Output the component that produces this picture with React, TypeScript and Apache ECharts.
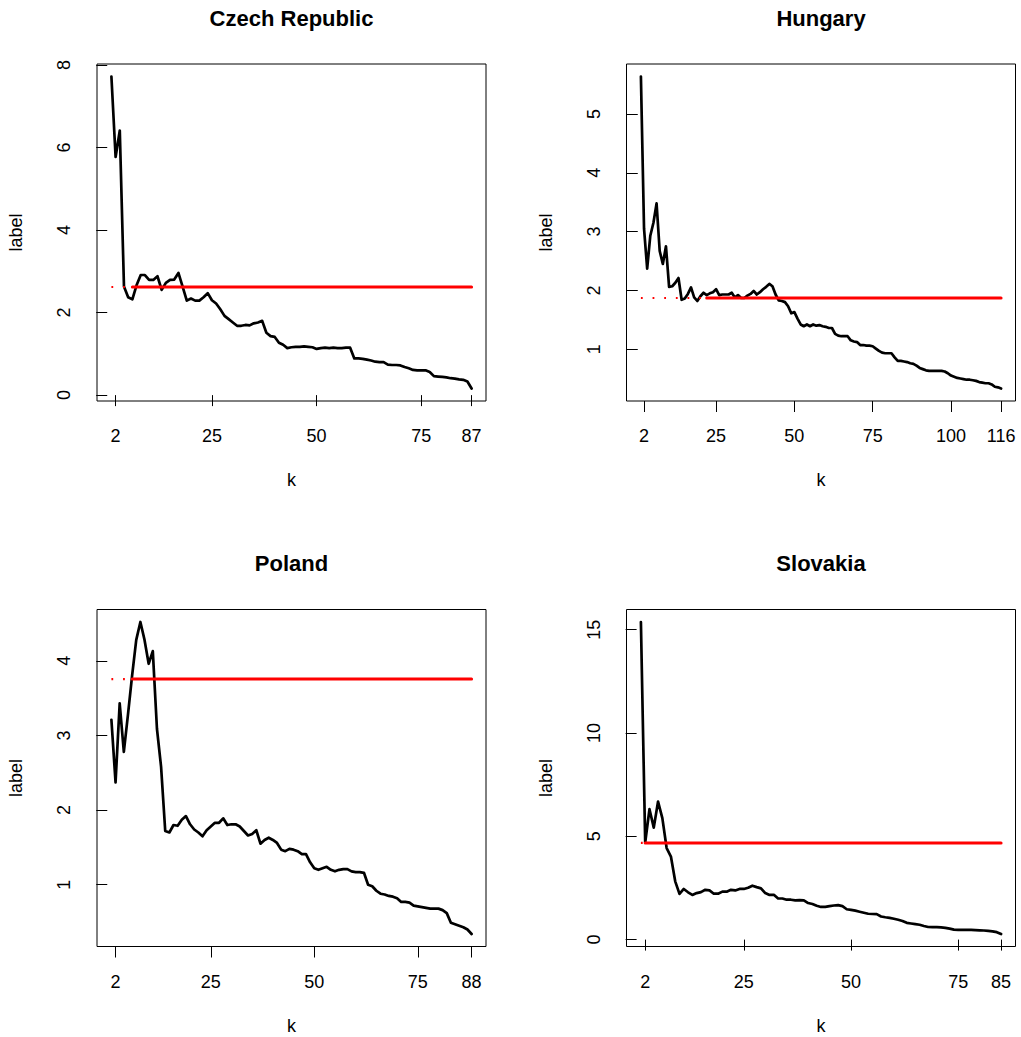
import React, { useEffect, useRef } from "react";
import * as echarts from "echarts";

// ---- data ----
const TITLES = ["Czech Republic", "Hungary", "Poland", "Slovakia"];

const czech = [
  7.72, 5.77, 6.41, 2.63, 2.37, 2.32, 2.66, 2.91, 2.91, 2.79, 2.79, 2.88, 2.55, 2.72, 2.79, 2.8, 2.96, 2.63, 2.29, 2.34,
  2.29, 2.29, 2.37, 2.47, 2.3, 2.22, 2.08, 1.92, 1.84, 1.76, 1.68, 1.68, 1.7, 1.69, 1.74, 1.76, 1.8, 1.51, 1.43, 1.41,
  1.27, 1.22, 1.14, 1.16, 1.17, 1.17, 1.18, 1.17, 1.16, 1.12, 1.14, 1.15, 1.14, 1.15, 1.14, 1.14, 1.15, 1.15, 0.89, 0.89,
  0.88, 0.86, 0.84, 0.81, 0.8, 0.8, 0.74, 0.73, 0.73, 0.72, 0.68, 0.65, 0.61, 0.6, 0.6, 0.6, 0.56, 0.46, 0.45, 0.44,
  0.43, 0.41, 0.4, 0.38, 0.37, 0.33, 0.16,
];

const hungary = [
  5.64, 3.05, 2.37, 2.93, 3.15, 3.48, 2.67, 2.45, 2.75, 2.06, 2.07, 2.13, 2.21, 1.84, 1.86, 1.94, 2.05, 1.88, 1.82, 1.9,
  1.96, 1.92, 1.95, 1.97, 2.02, 1.92, 1.93, 1.93, 1.93, 1.96, 1.88, 1.92, 1.87, 1.87, 1.91, 1.94, 1.99, 1.93, 1.97, 2.02,
  2.06, 2.11, 2.07, 1.93, 1.83, 1.82, 1.8, 1.73, 1.61, 1.63, 1.52, 1.42, 1.39, 1.42, 1.39, 1.42, 1.4, 1.41, 1.39, 1.38,
  1.36, 1.36, 1.26, 1.23, 1.22, 1.22, 1.22, 1.15, 1.13, 1.12, 1.07, 1.07, 1.06, 1.06, 1.05, 1.01, 0.97, 0.94, 0.93, 0.93,
  0.93, 0.86, 0.8, 0.8, 0.79, 0.78, 0.76, 0.75, 0.72, 0.68, 0.66, 0.64, 0.63, 0.63, 0.63, 0.63, 0.63, 0.62, 0.59, 0.55,
  0.53, 0.51, 0.5, 0.49, 0.48, 0.48, 0.47, 0.46, 0.44, 0.43, 0.42, 0.42, 0.4, 0.36, 0.35, 0.33,
];

const poland = [
  3.21, 2.37, 3.43, 2.78, 3.28, 3.8, 4.28, 4.52, 4.28, 3.96, 4.13, 3.09, 2.58, 1.72, 1.7, 1.8, 1.79, 1.87, 1.92, 1.81,
  1.74, 1.7, 1.65, 1.73, 1.78, 1.83, 1.83, 1.89, 1.8, 1.81, 1.81, 1.78, 1.72, 1.66, 1.68, 1.73, 1.55, 1.6, 1.63, 1.6,
  1.56, 1.47, 1.45, 1.48, 1.47, 1.45, 1.41, 1.41, 1.3, 1.22, 1.2, 1.22, 1.24, 1.2, 1.18, 1.2, 1.21, 1.21, 1.18, 1.17,
  1.17, 1.16, 1.0, 0.98, 0.92, 0.88, 0.87, 0.85, 0.84, 0.82, 0.77, 0.77, 0.76, 0.72, 0.71, 0.7, 0.69, 0.68, 0.68, 0.68,
  0.66, 0.62, 0.49, 0.47, 0.45, 0.43, 0.4, 0.34,
];

const slovakia = [
  15.37, 4.7, 6.31, 5.42, 6.68, 5.88, 4.43, 4.02, 2.82, 2.21, 2.45, 2.29, 2.16, 2.25, 2.3, 2.41, 2.38, 2.22, 2.22, 2.32,
  2.32, 2.41, 2.38, 2.45, 2.45, 2.51, 2.61, 2.54, 2.48, 2.25, 2.16, 2.17, 1.99, 1.99, 1.93, 1.93, 1.9, 1.91, 1.9, 1.77,
  1.72, 1.64, 1.58, 1.58, 1.62, 1.65, 1.67, 1.62, 1.47, 1.44, 1.4, 1.35, 1.3, 1.25, 1.24, 1.23, 1.12, 1.08, 1.05, 1.01,
  0.96, 0.9, 0.81, 0.78, 0.75, 0.72, 0.66, 0.61, 0.6, 0.6, 0.59, 0.57, 0.53, 0.48, 0.47, 0.47, 0.47, 0.47, 0.46, 0.45,
  0.44, 0.42, 0.4, 0.36, 0.27,
];

const X_TICKS = [
  [2, 25, 50, 75, 87],
  [2, 25, 50, 75, 100, 116],
  [2, 25, 50, 75, 88],
  [2, 25, 50, 75, 85],
];
const Y_TICKS = [
  [0, 2, 4, 6, 8],
  [1, 2, 3, 4, 5],
  [1, 2, 3, 4],
  [0, 5, 10, 15],
];
const RED_LEVEL = [2.62, 1.87, 3.755, 4.68];
const RED_SOLID_FROM = [6, 22, 6, 2];

const SERIES_VALUES = [czech, hungary, poland, slovakia];

// ---- layout ----
const FONT = "'Liberation Sans', Arial, Helvetica, sans-serif";
const LEFTS = [97, 626.5];
const TOPS = [64, 609.5];
const W = 389;
const H = 337;

function rExtend(lo: number, hi: number) {
  const d = (hi - lo) * 0.04;
  return [lo - d, hi + d];
}

export default function App() {
  const ref = useRef<HTMLDivElement>(null);

  useEffect(() => {
    document.body.style.margin = "0";
    if (!ref.current) return;
    const chart = echarts.init(ref.current, undefined, { renderer: "svg" });

    const grids: any[] = [];
    const xAxes: any[] = [];
    const yAxes: any[] = [];
    const series: any[] = [];
    const graphics: any[] = [];

    SERIES_VALUES.forEach((vals, i) => {
      const col = i % 2;
      const row = Math.floor(i / 2);
      const left = LEFTS[col];
      const top = TOPS[row];
      const n = vals.length;
      const [xmin, xmax] = rExtend(1, n);
      const [ymin, ymax] = rExtend(Math.min(...vals), Math.max(...vals));

      grids.push({
        left,
        top,
        width: W,
        height: H,
        show: true,
        borderColor: "#000",
        borderWidth: 1,
        backgroundColor: "transparent",
        containLabel: false,
      });

      xAxes.push({
        gridIndex: i,
        type: "value",
        min: xmin,
        max: xmax,
        axisLine: { show: false },
        splitLine: { show: false },
        axisTick: {
          show: true,
          inside: false,
          length: 11,
          lineStyle: { color: "#000", width: 1 },
          customValues: X_TICKS[i],
        },
        axisLabel: {
          customValues: X_TICKS[i],
          margin: 26,
          color: "#000",
          fontSize: 18,
          fontFamily: FONT,
        },
        name: "k",
        nameLocation: "middle",
        nameGap: 70,
        nameTextStyle: { color: "#000", fontSize: 18, fontFamily: FONT },
      });

      yAxes.push({
        gridIndex: i,
        type: "value",
        min: ymin,
        max: ymax,
        axisLine: { show: false },
        splitLine: { show: false },
        axisTick: {
          show: true,
          inside: false,
          length: 11,
          lineStyle: { color: "#000", width: 1 },
          customValues: Y_TICKS[i],
        },
        axisLabel: {
          customValues: Y_TICKS[i],
          rotate: 90,
          margin: 24,
          color: "#000",
          fontSize: 18,
          fontFamily: FONT,
        },
        name: "label",
        nameLocation: "middle",
        nameGap: 72,
        nameTextStyle: { color: "#000", fontSize: 18, fontFamily: FONT },
      });

      series.push({
        type: "line",
        xAxisIndex: i,
        yAxisIndex: i,
        data: vals.map((v, k) => [k + 1, v]),
        symbol: "none",
        silent: true,
        lineStyle: { color: "#000", width: 2.7, join: "round", cap: "round" },
      });
      series.push({
        type: "line",
        xAxisIndex: i,
        yAxisIndex: i,
        data: [
          [1, RED_LEVEL[i]],
          [RED_SOLID_FROM[i], RED_LEVEL[i]],
        ],
        symbol: "none",
        silent: true,
        lineStyle: { color: "#ff0000", width: 2.2, type: [1.8, 9.85], cap: "butt" },
      });
      series.push({
        type: "line",
        xAxisIndex: i,
        yAxisIndex: i,
        data: [
          [RED_SOLID_FROM[i], RED_LEVEL[i]],
          [n, RED_LEVEL[i]],
        ],
        symbol: "none",
        silent: true,
        lineStyle: { color: "#ff0000", width: 3, cap: "round" },
      });

      graphics.push({
        type: "text",
        x: left + W / 2,
        y: top - 46,
        style: {
          text: TITLES[i],
          fill: "#000",
          font: `bold 22px ${FONT}`,
          textAlign: "center",
          textVerticalAlign: "middle",
        },
      });
    });

    chart.setOption({
      animation: false,
      backgroundColor: "#fff",
      grid: grids,
      xAxis: xAxes,
      yAxis: yAxes,
      series,
      graphic: graphics,
    });

    return () => chart.dispose();
  }, []);

  return <div ref={ref} style={{ width: 1021, height: 1037 }} />;
}
